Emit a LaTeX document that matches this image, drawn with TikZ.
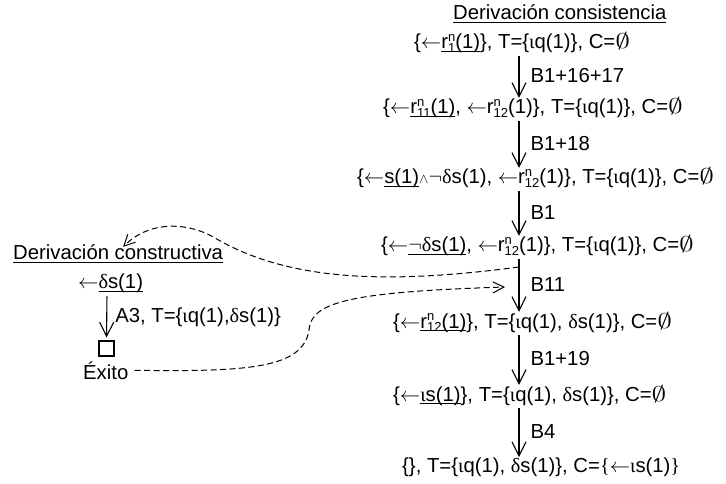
\RequirePackage{fix-cm}
\documentclass[tikz,border=0pt]{standalone}
\usepackage{fontspec}
\setmainfont{Liberation Sans}
\newfontfamily\grkfont{Liberation Serif}
\usetikzlibrary{arrows.meta}

% symbols used in the goal lists
\newcommand\gd{{\grkfont δ}}
\newcommand\gi{{\grkfont ι}}
\newcommand\lar{\ensuremath{\leftarrow}}
\newcommand\emp{\scalebox{1.45}[1.05]{\ensuremath{\emptyset}}}
\newcommand\negs{\ensuremath{\neg}}
\newcommand\conj{{\fontsize{14bp}{14bp}\selectfont\ensuremath{\wedge}}}
\newcommand\idx{\fontsize{13bp}{13bp}\selectfont}
% r with stacked superscript n and a subscript
\newcommand\rsub[1]{r\rlap{\raisebox{7.5bp}{\idx n}}\raisebox{-3.5bp}{\idx #1}}
% underline at a fixed depth below the baseline
\newcommand\uline[1]{\setbox0\hbox{#1}\rlap{\rule[-3bp]{\wd0}{1.1bp}}\box0}

\tikzset{
  txt/.style={inner sep=0pt, anchor=base west},
  flow/.style={line width=1.1bp, shorten <=3bp,
    -{Straight Barb[length=14bp,width=14bp,line width=1.1bp]}},
  steplbl/.style={inner sep=0pt, anchor=west, xshift=11bp},
  link/.style={line width=1bp, dash pattern=on 6bp off 3.5bp,
    -{Straight Barb[length=11bp,width=11bp,line width=1bp]}},
}

\begin{document}
\begin{tikzpicture}[x=1bp, y=-1bp, font=\fontsize{20.3bp}{24bp}\selectfont]
\useasboundingbox (0,0) rectangle (726,484);

% consistency derivation (right column)
\coordinate (ax) at (519,0);
\node[txt] (title) at (453,20) {\uline{Derivación consistencia}};
\node[txt] (r1) at (414,49) {\{\lar\uline{\rsub{1}(1)}\}, T=\{\gi q(1)\}, C=\emp};
\node[txt] (r2) at (383,114) {\{\lar\uline{\rsub{11}(1)}, \lar\rsub{12}(1)\}, T=\{\gi q(1)\}, C=\emp};
\node[txt] (r3) at (357,184) {\{\lar\uline{s(1)}\conj\negs\gd s(1), \lar\rsub{12}(1)\}, T=\{\gi q(1)\}, C=\emp};
\node[txt] (r4) at (381,252) {\{\lar\uline{\negs\gd s(1)}, \lar\rsub{12}(1)\}, T=\{\gi q(1)\}, C=\emp};
\node[txt] (r5) at (393,328) {\{\lar\uline{\rsub{12}(1)}\}, T=\{\gi q(1), \gd s(1)\}, C=\emp};
\node[txt] (r6) at (393,401) {\{\lar\uline{\gi s(1)}\}, T=\{\gi q(1), \gd s(1)\}, C=\emp};
\node[txt] (r7) at (402,472) {\{\}, T=\{\gi q(1), \gd s(1)\}, C={\grkfont\{}\lar\gi s(1){\grkfont\}}};

\draw[flow] (r1.south -| ax) -- (r2.north -| ax) node[midway, steplbl] (b1) {B1+16+17};
\draw[flow] (r2.south -| ax) -- (r3.north -| ax) node[midway, steplbl] (b2) {B1+18};
\draw[flow] (r3.south -| ax) -- (r4.north -| ax) node[midway, steplbl] (b3) {B1};
\draw[flow] (r4.south -| ax) -- (r5.north -| ax) node[midway, steplbl] (b4) {B11};
\draw[flow] (r5.south -| ax) -- (r6.north -| ax) node[midway, steplbl] (b5) {B1+19};
\draw[flow] (r6.south -| ax) -- (r7.north -| ax) node[midway, steplbl] (b6) {B4};

% constructive derivation (left column)
\node[txt] (ctitle) at (13,260) {\uline{Derivación constructiva}};
\node[txt] (goal) at (78,289) {\lar\uline{\gd s(1)}};
\node[draw, line width=1.1bp, minimum size=15bp, inner sep=0pt] (box) at (106.5,348.5) {};
\node[txt] (ok) at (83,379) {Éxito};
\coordinate (lx) at (107,0);
\draw[flow, shorten >=3bp] (goal.south -| lx) -- (box.north)
  node[midway, steplbl, xshift=-3bp] (a3) {A3, T=\{\gi q(1),\gd s(1)\}};

% links between the two derivations
\coordinate (fork) at (519,267);
\coordinate (join) at (505,287);
\draw[link] (fork) .. controls (390,284) and (290,282) .. (215,238)
  .. controls (192,224) and (152,218) .. ([xshift=5bp,yshift=-2bp]ctitle.north);
\draw[link] ([xshift=6bp]ok.east) .. controls (250,372) and (303,368) .. (309,330)
  .. controls (311,302) and (350,292) .. (join);
\end{tikzpicture}
\end{document}
